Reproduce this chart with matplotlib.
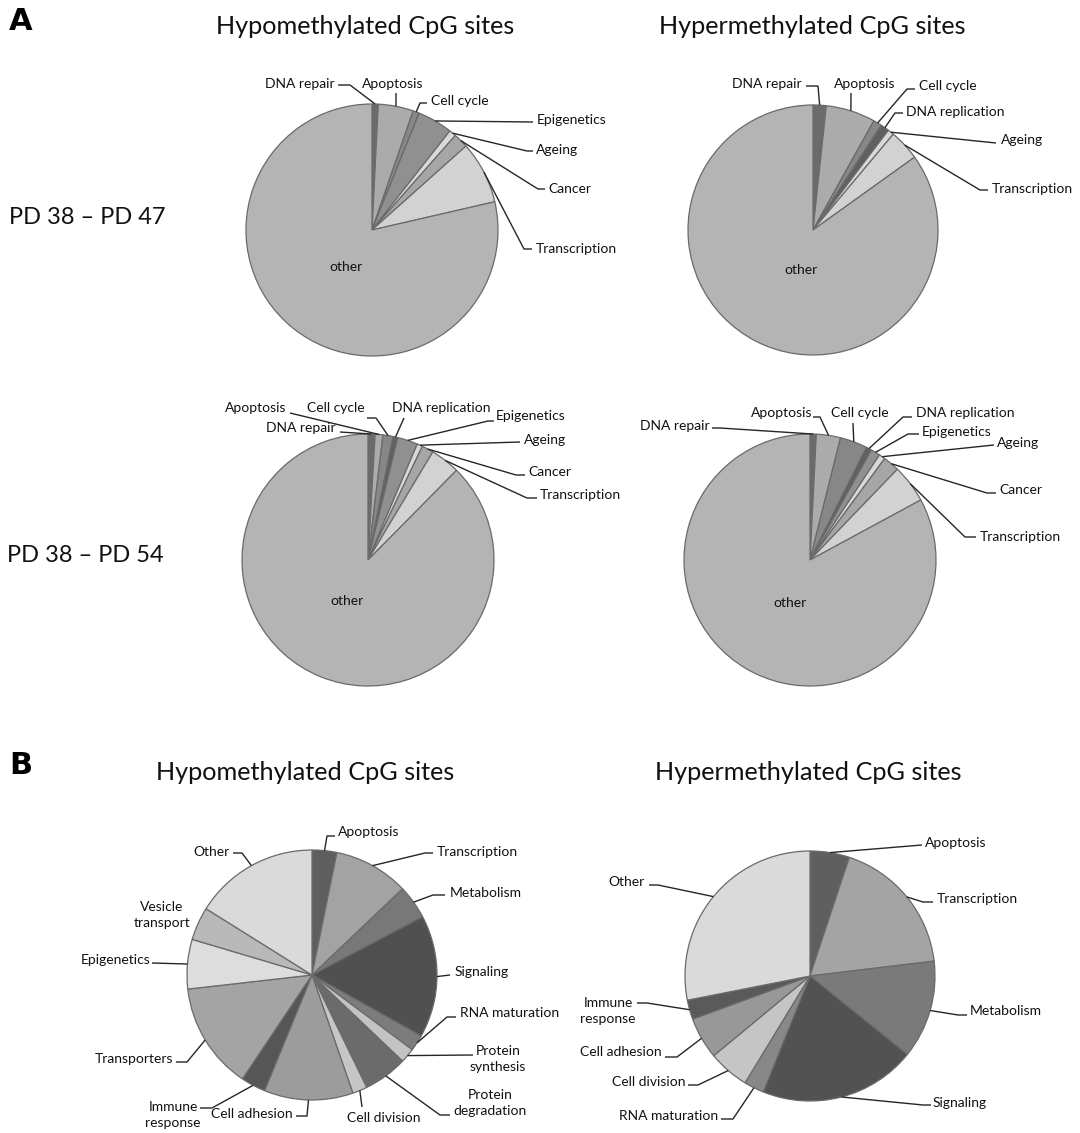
import matplotlib
matplotlib.use("Agg")
import matplotlib.pyplot as plt
import numpy as np

plt.rcParams['font.family'] = ['Lato', 'DejaVu Sans']

W, H = 1080, 1133

# ---- Panel A: functional categories of differentially methylated CpG sites ----
a_hypo_47_labels = ["DNA repair", "Apoptosis", "Cell cycle", "Epigenetics", "Ageing",
                    "Cancer", "Transcription", "other"]
a_hypo_47_values = [0.8, 4.5, 0.8, 4.5, 0.9, 1.9, 8.0, 78.6]

a_hyper_47_labels = ["DNA repair", "Apoptosis", "Cell cycle", "DNA replication", "Ageing",
                     "Transcription", "other"]
a_hyper_47_values = [1.7, 6.4, 1.1, 1.1, 0.8, 4.0, 84.9]

a_hypo_54_labels = ["DNA repair", "Apoptosis", "Cell cycle", "DNA replication", "Epigenetics",
                    "Ageing", "Cancer", "Transcription", "other"]
a_hypo_54_values = [0.9, 1.0, 1.3, 0.6, 2.6, 0.7, 1.5, 3.8, 87.6]

a_hyper_54_labels = ["DNA repair", "Apoptosis", "Cell cycle", "DNA replication", "Epigenetics",
                     "Ageing", "Cancer", "Transcription", "other"]
a_hyper_54_values = [0.8, 3.1, 3.5, 0.7, 1.2, 0.8, 2.1, 4.9, 82.9]

# ---- Panel B ----
b_hypo_labels = ["Apoptosis", "Transcription", "Metabolism", "Signaling", "RNA maturation",
                 "Protein\nsynthesis", "Protein\ndegradation", "Cell division", "Cell adhesion",
                 "Immune\nresponse", "Transporters", "Epigenetics", "Vesicle\ntransport", "Other"]
b_hypo_values = [3.2, 9.7, 4.4, 15.8, 2.1, 1.9, 5.7, 1.9, 11.5, 3.2, 13.8, 6.4, 4.3, 16.1]

b_hyper_labels = ["Apoptosis", "Transcription", "Metabolism", "Signaling", "RNA maturation",
                  "Cell division", "Cell adhesion", "Immune\nresponse", "Other"]
b_hyper_values = [5.1, 18.0, 12.7, 20.3, 2.6, 5.3, 5.4, 2.5, 28.1]

# grey shades per category
shade_a = {"DNA repair": "#6b6b6b", "Apoptosis": "#ababab", "Cell cycle": "#878787",
           "DNA replication": "#606060", "Epigenetics": "#909090", "Ageing": "#d9d9d9",
           "Cancer": "#a6a6a6", "Transcription": "#d2d2d2", "other": "#b4b4b4"}
b_hypo_colors = ["#5e5e5e", "#a3a3a3", "#787878", "#505050", "#7c7c7c", "#c3c3c3", "#6b6b6b",
                 "#c6c6c6", "#9c9c9c", "#565656", "#a4a4a4", "#dddddd", "#b9b9b9", "#dadada"]
b_hyper_colors = ["#5f5f5f", "#a4a4a4", "#7a7a7a", "#525252", "#888888", "#c5c5c5", "#989898",
                  "#5a5a5a", "#dadada"]

fig = plt.figure(figsize=(W / 100, H / 100), dpi=100)
ax = fig.add_axes([0, 0, 1, 1])


def P(x, y):
    """pixel position (origin top-left) -> data position"""
    return x, H - y


LABEL_FS = 10
LINE_KW = dict(color="#262626", lw=1.0, solid_capstyle="butt", zorder=3)


def draw_pie(values, colors, center, radius, labels, specs, inner=None):
    cx, cy = P(*center)
    wedges, _ = ax.pie(values, colors=colors, startangle=90, counterclock=False,
                       center=(cx, cy), radius=radius,
                       wedgeprops=dict(edgecolor="#6a6a6a", linewidth=0.9))
    for i, (path, tpos, ha) in specs.items():
        w = wedges[i]
        mid = np.deg2rad((w.theta1 + w.theta2) / 2)
        sx, sy = cx + radius * np.cos(mid), cy + radius * np.sin(mid)
        if path:
            pts = [(sx, sy)] + [P(*p) for p in path]
            xs, ys = zip(*pts)
            ax.plot(xs, ys, **LINE_KW)
        tx, ty = P(*tpos)
        ax.text(tx, ty, labels[i], ha=ha, va="center", fontsize=LABEL_FS,
                multialignment="center", linespacing=1.4, color="#111111")
    if inner is not None:
        tx, ty = P(*inner[1])
        ax.text(tx, ty, inner[0], ha="center", va="center", fontsize=LABEL_FS, color="#111111")


# A: PD 38 - PD 47, hypomethylated
draw_pie(a_hypo_47_values, [shade_a[k] for k in a_hypo_47_labels], (372, 230), 126,
         a_hypo_47_labels,
         {0: ([(350, 85), (338, 85)], (335, 84), "right"),
          1: ([(396, 93)], (393, 84), "center"),
          2: ([(420, 103), (427, 103)], (431, 101), "left"),
          3: ([(533, 122)], (537, 120), "left"),
          4: ([(527, 151), (533, 151)], (536, 150), "left"),
          5: ([(538, 189), (545, 189)], (548, 189), "left"),
          6: ([(524, 249), (532, 249)], (536, 249), "left")},
         inner=("other", (346, 267)))

# A: PD 38 - PD 47, hypermethylated
draw_pie(a_hyper_47_values, [shade_a[k] for k in a_hyper_47_labels], (813, 230), 125,
         a_hyper_47_labels,
         {0: ([(818, 86), (806, 86)], (802, 84), "right"),
          1: ([(851, 93)], (865, 84), "center"),
          2: ([(907, 89), (915, 89)], (919, 86), "left"),
          3: ([(895, 113), (903, 113)], (906, 112), "left"),
          4: ([(996, 143)], (1001, 140), "left"),
          5: ([(980, 190), (988, 190)], (992, 189), "left")},
         inner=("other", (801, 270)))

# A: PD 38 - PD 54, hypomethylated
draw_pie(a_hypo_54_values, [shade_a[k] for k in a_hypo_54_labels], (368, 560), 126,
         a_hypo_54_labels,
         {0: ([(340, 432)], (336, 428), "right"),
          1: ([(290, 413)], (286, 408), "right"),
          2: ([(376, 418), (367, 418)], (365, 408), "right"),
          3: ([(404, 418)], (441, 408), "center"),
          4: ([(488, 421), (494, 421)], (496, 416), "left"),
          5: ([(520, 442)], (524, 440), "left"),
          6: ([(516, 475), (525, 475)], (528, 472), "left"),
          7: ([(527, 498), (537, 498)], (540, 495), "left")},
         inner=("other", (347, 601)))

# A: PD 38 - PD 54, hypermethylated
draw_pie(a_hyper_54_values, [shade_a[k] for k in a_hyper_54_labels], (810, 560), 126,
         a_hyper_54_labels,
         {0: ([(720, 428), (712, 428)], (710, 426), "right"),
          1: ([(820, 417), (813, 417)], (812, 413), "right"),
          2: ([(853, 423)], (860, 413), "center"),
          3: ([(903, 417), (912, 417)], (916, 413), "left"),
          4: ([(908, 434), (919, 434)], (922, 432), "left"),
          5: ([(994, 445)], (997, 443), "left"),
          6: ([(987, 493), (996, 493)], (999, 490), "left"),
          7: ([(965, 537), (976, 537)], (980, 537), "left")},
         inner=("other", (790, 603)))

# B: hypomethylated
draw_pie(b_hypo_values, b_hypo_colors, (312, 975), 125, b_hypo_labels,
         {0: ([(327, 836), (335, 836)], (338, 832), "left"),
          1: ([(425, 853), (433, 853)], (437, 852), "left"),
          2: ([(433, 895), (445, 895)], (450, 893), "left"),
          3: ([(450, 975)], (455, 972), "left"),
          4: ([(447, 1017), (456, 1017)], (460, 1013), "left"),
          5: ([(473, 1055)], (498, 1059), "center"),
          6: ([(440, 1115), (450, 1115)], (490, 1103), "center"),
          7: ([(362, 1107)], (384, 1118), "center"),
          8: ([(307, 1116), (296, 1116)], (293, 1114), "right"),
          9: ([(212, 1108), (200, 1108)], (173, 1115), "center"),
          10: ([(187, 1062), (176, 1062)], (173, 1059), "right"),
          11: ([(152, 963)], (150, 960), "right"),
          12: (None, (162, 915), "center"),
          13: ([(242, 853), (233, 853)], (230, 852), "right")})

# B: hypermethylated
draw_pie(b_hyper_values, b_hyper_colors, (810, 976), 125, b_hyper_labels,
         {0: ([(922, 845)], (925, 843), "left"),
          1: ([(923, 902), (933, 902)], (937, 899), "left"),
          2: ([(958, 1015), (967, 1015)], (970, 1011), "left"),
          3: ([(923, 1105), (931, 1105)], (933, 1103), "left"),
          4: ([(733, 1119), (721, 1119)], (718, 1116), "right"),
          5: ([(698, 1085), (688, 1085)], (685, 1082), "right"),
          6: ([(677, 1057), (665, 1057)], (662, 1052), "right"),
          7: ([(647, 1003), (637, 1003)], (608, 1011), "center"),
          8: ([(658, 885), (649, 885)], (645, 882), "right")})

# titles and panel letters
TITLE_FS = 18.2
for txt, (x, y) in [("Hypomethylated CpG sites", (365, 27)),
                    ("Hypermethylated CpG sites", (812, 27)),
                    ("Hypomethylated CpG sites", (305, 772)),
                    ("Hypermethylated CpG sites", (808, 772))]:
    ax.text(*P(x, y), txt, ha="center", va="center", fontsize=TITLE_FS, color="#111111")

for txt, (x, y) in [("PD 38 – PD 47", (87, 218)), ("PD 38 – PD 54", (85, 556))]:
    ax.text(*P(x, y), txt, ha="center", va="center", fontsize=17, color="#111111")

ax.text(*P(21, 21), "A", ha="center", va="center", fontsize=22, fontweight="bold",
        family=["DejaVu Sans"], color="black")
ax.text(*P(21, 766), "B", ha="center", va="center", fontsize=22, fontweight="bold",
        family=["DejaVu Sans"], color="black")

ax.set_xlim(0, W)
ax.set_ylim(0, H)
ax.set_aspect("equal")
ax.axis("off")

fig.savefig("out.png", dpi=100, facecolor="white")
